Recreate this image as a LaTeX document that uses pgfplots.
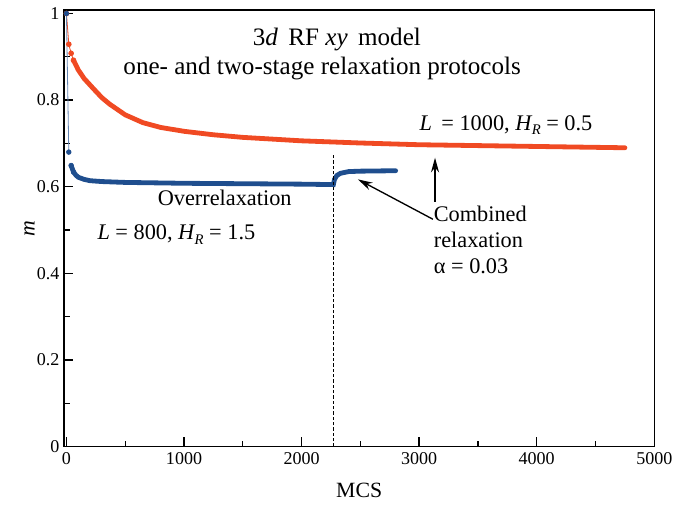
\documentclass[border=0pt]{standalone}
\usepackage{pgfplots}
\pgfplotsset{compat=1.18}
\usetikzlibrary{arrows.meta}
\usepackage{fontspec}
\setmainfont{Liberation Serif}
\definecolor{orangeR}{HTML}{F04A23}
\definecolor{blueR}{HTML}{1F4E8E}
\newcommand{\HR}{\textit{H}\kern-0.5pt\raisebox{-0.45ex}{\fontsize{11}{11}\selectfont\textit{R}}}

\begin{document}
\begin{tikzpicture}
\begin{axis}[
  scale only axis,
  width=442pt, height=327pt,
  xmin=-20, xmax=5000, ymin=0, ymax=1.008,
  axis line style={line width=1.1pt},
  tick align=inside,
  xtick pos=lower, ytick pos=left,
  xtick={0,1000,2000,3000,4000,5000},
  minor xtick={500,1500,2500,3500,4500},
  ytick={0,0.2,0.4,0.6,0.8,1},
  yticklabels={0,0.2,0.4,0.6,0.8,1},
  minor ytick={0.1,0.3,0.5,0.7,0.9},
  major tick length=7pt, minor tick length=4.5pt,
  every tick/.style={black, line width=1pt},
  /pgf/number format/assume math mode=true,
  scaled x ticks=false,
  xticklabel style={font=\rmfamily\fontsize{13.5}{13.5}\selectfont, yshift=-1pt},
  yticklabel style={font=\rmfamily\fontsize{13.5}{13.5}\selectfont},
  /pgf/number format/1000 sep={},
  xlabel={MCS},
  xlabel style={font=\fontsize{16.3}{16.3}\selectfont, at={(rel axis cs:0.5,0)}, anchor=center, yshift=-33pt},
  clip=false,
]
% single-stage relaxation, L = 1000
\addplot[orangeR, line width=0.6pt, mark=*, mark size=1.8pt] coordinates {
 (0,1.0) (20,0.929) (40,0.908) (60,0.892)};
\addplot[orangeR, line width=3.6pt, line cap=round] coordinates {
 (60,0.892) (100,0.870) (150,0.850) (224,0.828) (300,0.806) (366,0.791)
 (500,0.766) (650,0.748) (800,0.737) (1000,0.728) (1250,0.720) (1500,0.714)
 (2000,0.706) (2500,0.701) (3000,0.697) (3500,0.695) (4000,0.693)
 (4500,0.691) (4750,0.690)};
% overrelaxation followed by combined relaxation, L = 800
\addplot[blueR!70, line width=0.6pt] coordinates {(0,1.0) (20,0.680)};
\addplot[blueR, only marks, mark=*, mark size=1.8pt] coordinates {
 (0,1.0) (20,0.680) (40,0.649) (60,0.634)};
\addplot[blueR, line width=3.6pt, line cap=round] coordinates {
 (40,0.649) (60,0.634) (80,0.627) (100,0.622) (150,0.617) (200,0.614) (300,0.612)
 (500,0.610) (1000,0.608) (1500,0.607) (2000,0.606) (2270,0.605)
 (2280,0.617) (2300,0.626) (2330,0.631) (2400,0.635) (2500,0.636)
 (2800,0.637)};
% switch between the two stages
\addplot[black, dash pattern=on 2.5pt off 1.5pt, line width=0.8pt] coordinates {(2270,0) (2270,0.675)};

\node[font=\fontsize{18.8}{18.8}\selectfont, anchor=base] at (axis cs:2300,0.926) {3\textit{d}\, RF \textit{xy}\, model};
\node[font=\fontsize{18.8}{18.8}\selectfont, anchor=base] at (axis cs:2175,0.859) {one- and two-stage relaxation protocols};
\node[font=\fontsize{16.7}{16.7}\selectfont] at (axis cs:3739,0.742) {\textit{L}\, = 1000, \HR\ = 0.5};
\node[font=\fontsize{16.7}{16.7}\selectfont] at (axis cs:1346,0.574) {Overrelaxation};
\node[font=\fontsize{16.7}{16.7}\selectfont] at (axis cs:935,0.490) {\textit{L} = 800, \HR\ = 1.5};
\node[font=\fontsize{16.7}{16.7}\selectfont, anchor=west, align=left] at (axis cs:3085,0.477)
  {Combined\\[2.5pt]relaxation\\[2.5pt]α = 0.03};
\draw[-{Stealth[length=11pt,width=6pt]}, line width=1pt] (axis cs:3135,0.565) -- (axis cs:3135,0.667);
\draw[-{Stealth[length=11pt,width=6pt]}, line width=1pt] (axis cs:3117,0.525) -- (axis cs:2479,0.617);
% y-axis label
\node[font=\fontsize{16.3}{16.3}\selectfont\itshape, rotate=90] at ([xshift=-26pt]rel axis cs:0,0.5) {m};
\end{axis}
\path (current axis.south west) ++(-48pt,-43.5pt) (current axis.north east) ++(23pt,7.5pt);
\end{tikzpicture}
\end{document}
